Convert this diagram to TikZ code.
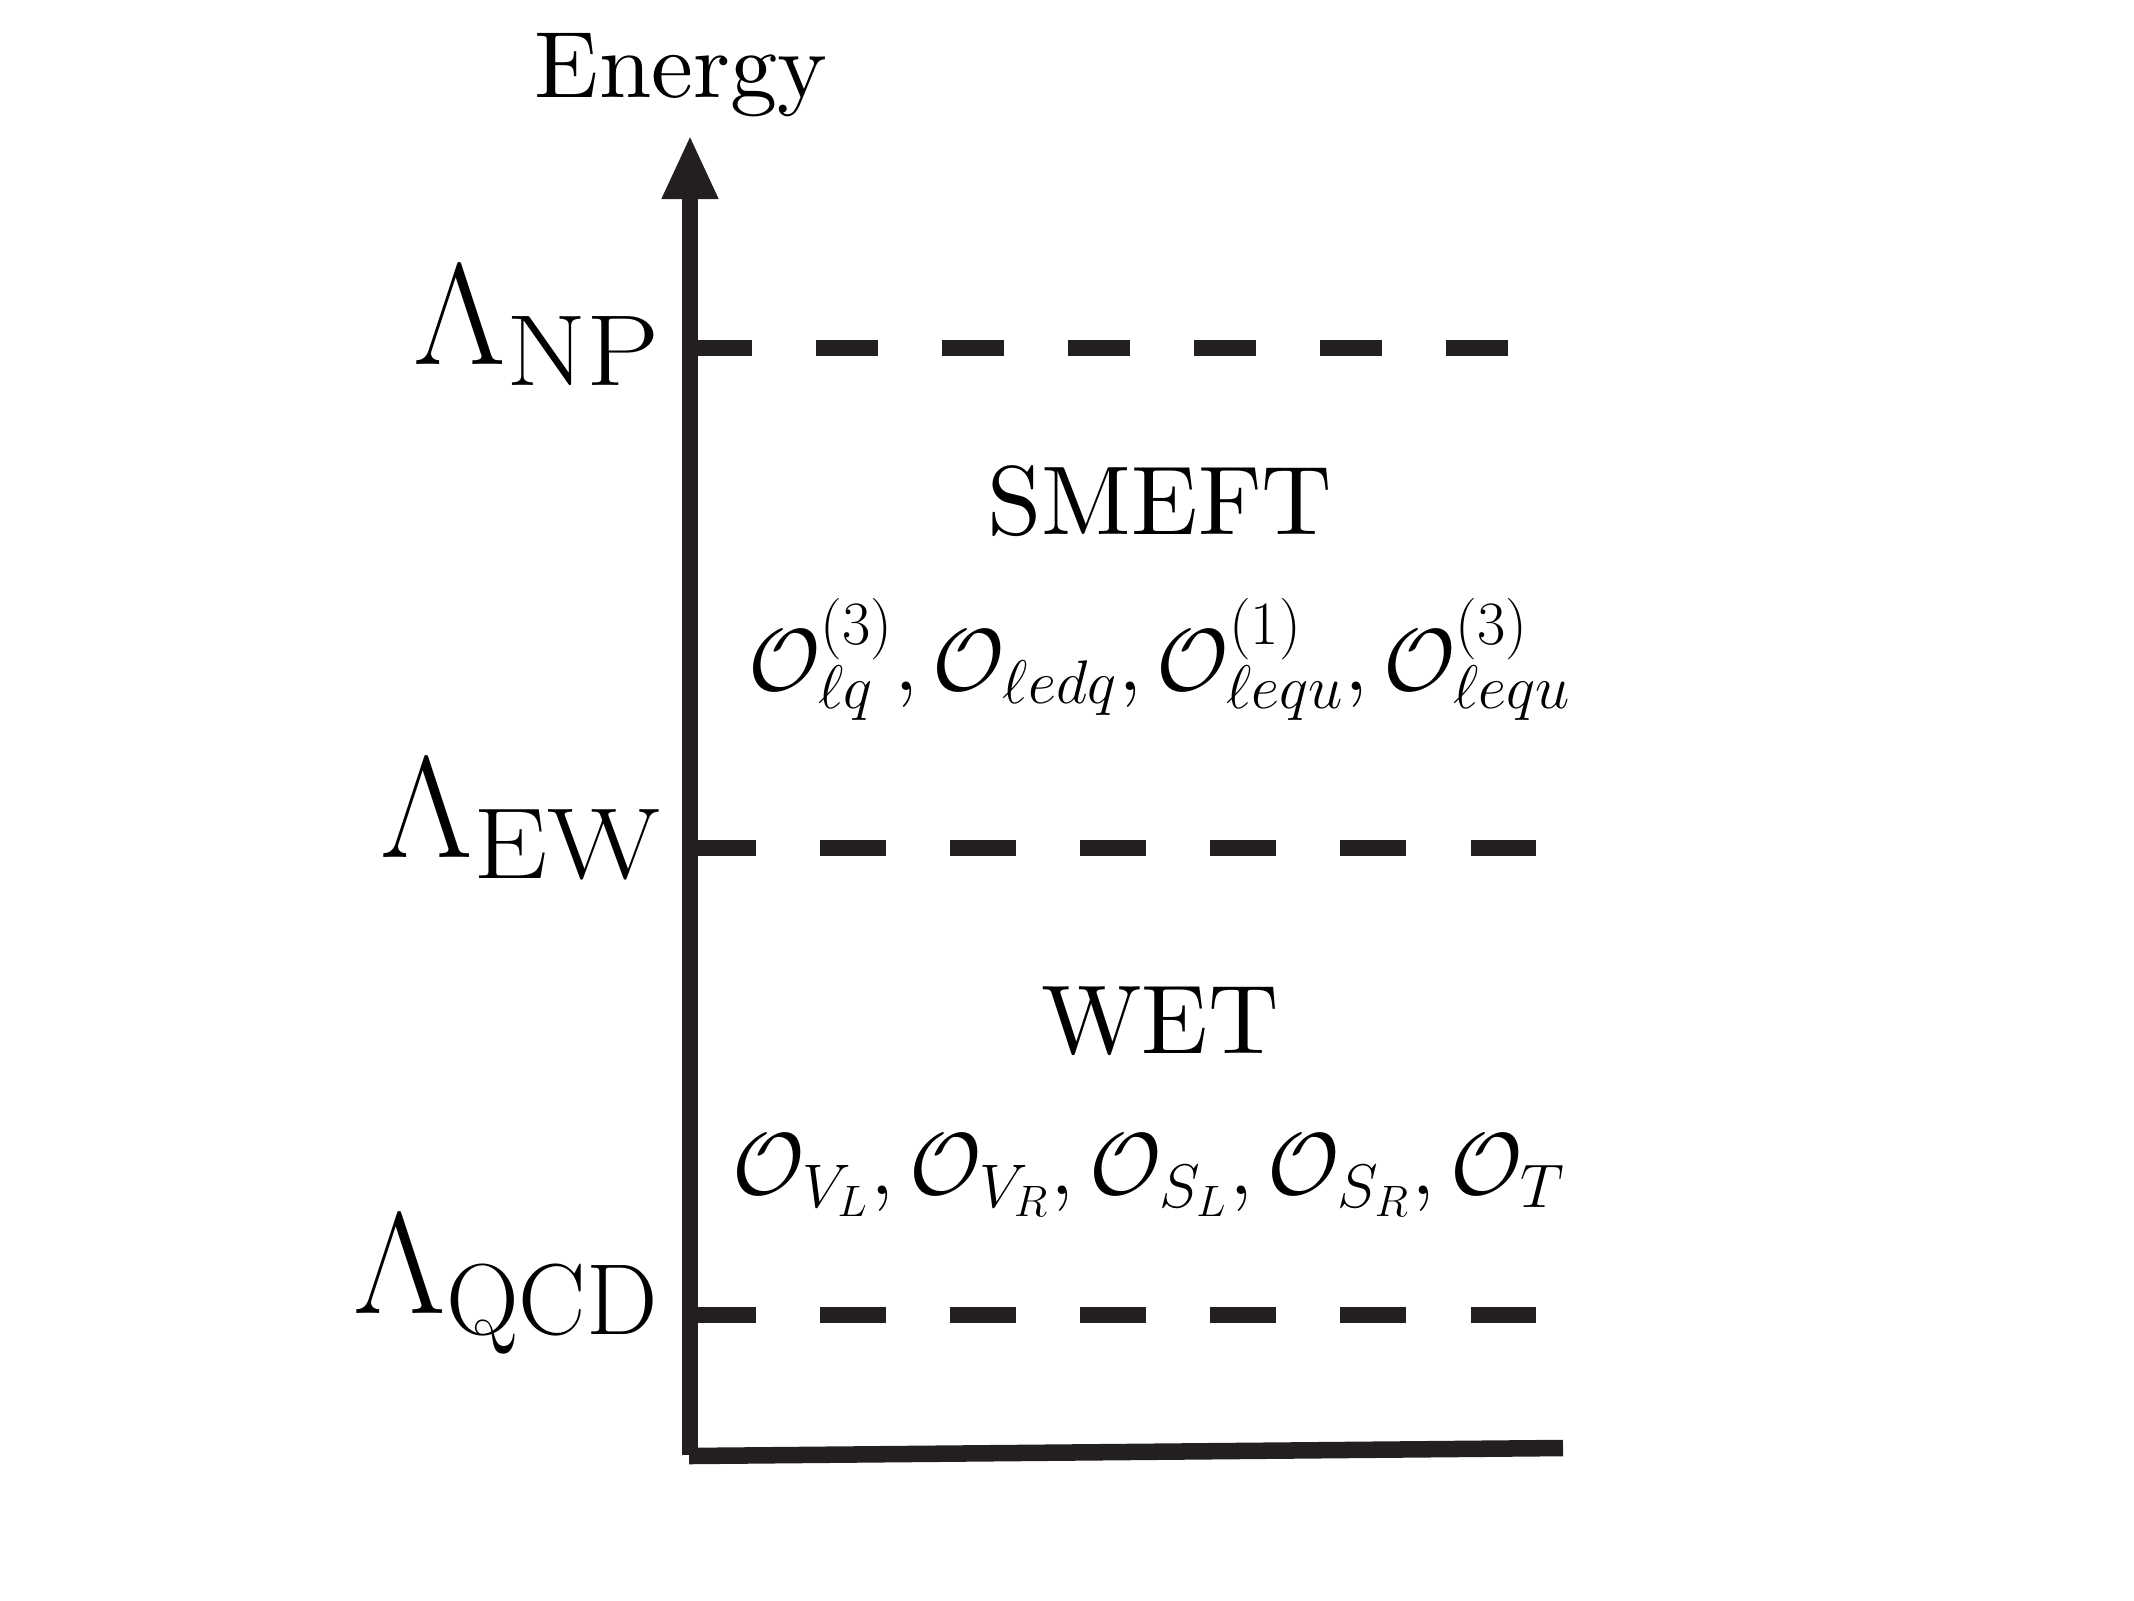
\RequirePackage{fix-cm}
\documentclass[tikz,border=0pt]{standalone}
\usetikzlibrary{arrows.meta}
\definecolor{ink}{RGB}{35,31,32}
\newcommand{\widesub}[2]{\scalebox{#1}[1]{$\scriptstyle\mathrm{#2}$}}
\begin{document}
\begin{tikzpicture}[x=0.01cm,y=-0.01cm,
  axisline/.style={draw=ink,line width=4.7pt},
  levelline/.style={draw=ink,line width=4.7pt},
  lamlab/.style={inner sep=0pt,anchor=base east,font=\fontsize{41}{48}\selectfont},
  regiontitle/.style={inner sep=0pt,anchor=base,font=\fontsize{10}{12}\selectfont},
  opslab/.style={inner sep=0pt,anchor=base,font=\fontsize{25}{30}\selectfont}]
\useasboundingbox (0,0) rectangle (2134,1600);

% axis
\coordinate (base) at (690,1455);
\coordinate (tip) at (690,135);
\coordinate (bl0) at (689,1456);
\coordinate (bl1) at (1563,1448);
\draw[axisline,-{Triangle[length=18.2pt,width=14.8pt]}] (base) -- (tip);
\draw[axisline] (bl0) -- (bl1);

\node[regiontitle] (energy) at (681,98) {\scalebox{2.68}{Energy}};

% levels
\coordinate (np0) at (690,348);
\coordinate (np1) at (1508,348);
\coordinate (ew0) at (690,848);
\coordinate (ew1) at (1536,848);
\coordinate (qcd0) at (690,1315);
\coordinate (qcd1) at (1536,1315);
\draw[levelline,dash pattern=on 17.64pt off 18.21pt] (np0) -- (np1);
\draw[levelline,dash pattern=on 18.78pt off 18.21pt] (ew0) -- (ew1);
\draw[levelline,dash pattern=on 18.78pt off 18.21pt] (qcd0) -- (qcd1);

\node[lamlab] (lnp) at (662,364) {$\Lambda_{\widesub{1.15}{NP}}$};
\node[lamlab] (lew) at (664,857) {$\Lambda_{\widesub{1.17}{EW}}$};
\node[lamlab] (lqcd) at (660,1313) {$\Lambda_{\mathrm{QCD}}$};

% regions
\node[regiontitle] (smeft) at (1160,534) {\scalebox{2.78}{SMEFT}};
\node[opslab] (smops) at (1160,690) {$\mathcal{O}_{\ell q}^{(3)},\mathcal{O}_{\ell e d q},\mathcal{O}_{\ell e q u}^{(1)},\mathcal{O}_{\ell e q u}^{(3)}$};
\node[regiontitle] (wet) at (1160,1053) {\scalebox{2.78}{WET}};
\node[opslab] (wetops) at (1149,1194) {$\mathcal{O}_{V_L},\mathcal{O}_{V_R},\mathcal{O}_{S_L},\mathcal{O}_{S_R},\mathcal{O}_{T}$};
\end{tikzpicture}
\end{document}
